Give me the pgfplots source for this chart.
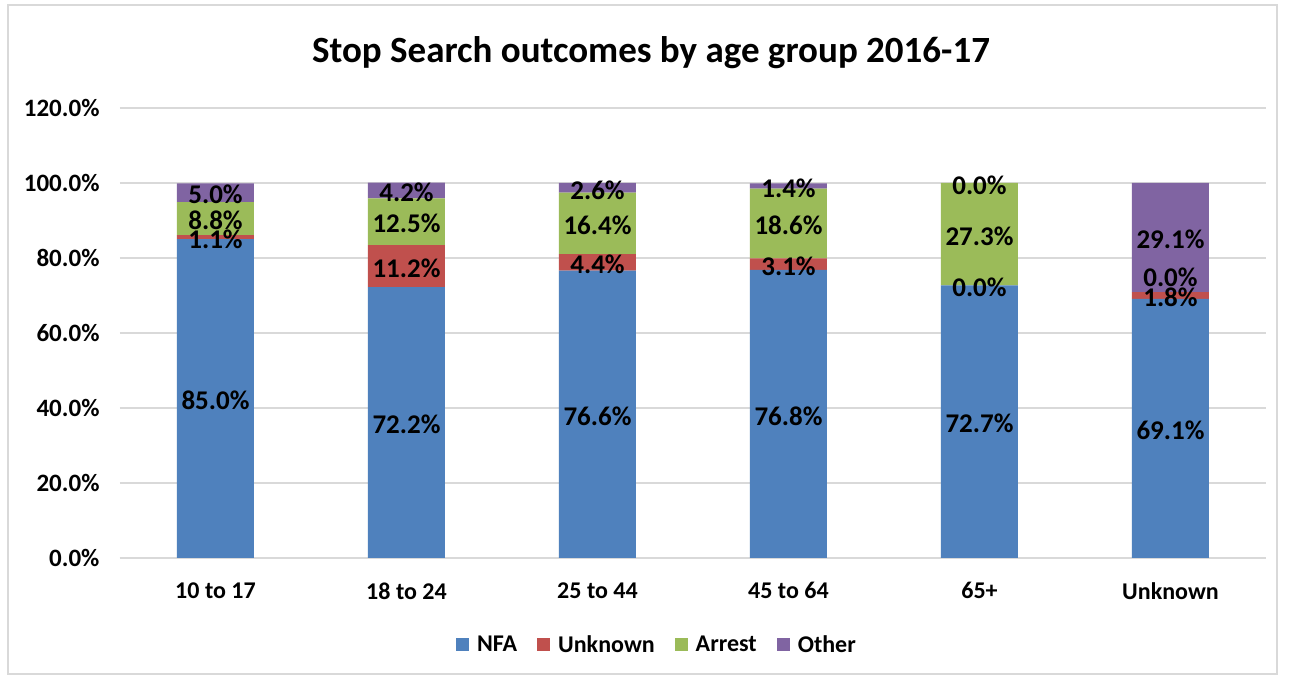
\documentclass[border=0pt]{standalone}
\usepackage{pgfplots}
\pgfplotsset{compat=1.18}
\usepackage{pgfplotstable}
\usepackage{fontspec}
\setmainfont{Carlito}
\definecolor{cNFA}{HTML}{4F81BD}
\definecolor{cUnk}{HTML}{C0504D}
\definecolor{cArr}{HTML}{9BBB59}
\definecolor{cOth}{HTML}{8064A2}
\definecolor{gridc}{HTML}{D9D9D9}
% arroff: small upward shift of the Arrest label where labels would collide
\pgfplotstableread{
x nfa unk arr oth arroff
0 85.0 1.1 8.8 5.0 0
1 72.2 11.2 12.5 4.2 0
2 76.6 4.4 16.4 2.6 0
3 76.8 3.1 18.6 1.4 0
4 72.7 0.0 27.3 0.0 0
5 69.1 1.8 0.0 29.1 4.5
}\data
\begin{document}
\begin{tikzpicture}[x=1pt,y=1pt]
\path[fill=white] (0,0) rectangle (1294,676);
\draw[gridc, line width=1.5pt] (8,2) rectangle (1277,671);
\node[font=\fontsize{37}{44}\selectfont\bfseries] at (651,623) {Stop Search outcomes by age group 2016-17};
\pgfplotsset{commonax/.style={
  at={(120pt,118pt)}, anchor=south west, scale only axis,
  width=1146pt, height=450pt,
  xmin=-0.5, xmax=5.5, ymin=0, ymax=120,
  /pgf/number format/assume math mode=true,
}}
\begin{axis}[commonax, ybar stacked, bar width=77pt,
  axis x line*=bottom, axis y line*=left,
  y axis line style={draw=none},
  x axis line style={gridc, line width=1.2pt},
  xtick={0,...,5},
  xticklabels={10 to 17, 18 to 24, 25 to 44, 45 to 64, 65+, Unknown},
  ytick={0,20,...,120},
  yticklabel={\pgfmathprintnumber[fixed,fixed zerofill,precision=1]{\tick}\%},
  tick style={draw=none},
  ymajorgrids, grid style={gridc, line width=1.2pt},
  xticklabel style={font=\fontsize{24}{28}\selectfont\bfseries, yshift=-21pt},
  yticklabel style={font=\fontsize{25}{29}\selectfont\bfseries, xshift=-17pt},
  legend style={at={(0.4686,-0.193)}, anchor=center, draw=none, fill=none,
    legend columns=4, font=\fontsize{24}{28}\selectfont\bfseries,
    /tikz/every odd column/.append style={column sep=6pt},
    /tikz/every even column/.append style={column sep=18pt}},
  legend image code/.code={\fill[#1] (0pt,-6pt) rectangle (13pt,7pt);},
]
\addplot[fill=cNFA, draw=none] table[x=x,y=nfa]{\data};
\addplot[fill=cUnk, draw=none] table[x=x,y=unk]{\data};
\addplot[fill=cArr, draw=none] table[x=x,y=arr]{\data};
\addplot[fill=cOth, draw=none] table[x=x,y=oth]{\data};
\legend{NFA, Unknown, Arrest, Other}
\end{axis}
\begin{axis}[commonax, hide axis,
  nodes near coords={\pgfmathprintnumber[fixed,fixed zerofill,precision=1]{\pgfplotspointmeta}\%},
  every node near coord/.append style={font=\fontsize{27}{30}\selectfont\bfseries, anchor=center, inner sep=0pt, text=black, yshift=-2pt},
  point meta=explicit]
\addplot[draw=none, mark=none] table[x=x, y expr=\thisrow{nfa}/2, meta=nfa]{\data};
\addplot[draw=none, mark=none] table[x=x, y expr=\thisrow{nfa}+\thisrow{unk}/2, meta=unk]{\data};
\addplot[draw=none, mark=none] table[x=x, y expr=\thisrow{nfa}+\thisrow{unk}+\thisrow{arr}/2+\thisrow{arroff}, meta=arr]{\data};
\addplot[draw=none, mark=none] table[x=x, y expr=\thisrow{nfa}+\thisrow{unk}+\thisrow{arr}+\thisrow{oth}/2, meta=oth]{\data};
\end{axis}
\end{tikzpicture}
\end{document}
